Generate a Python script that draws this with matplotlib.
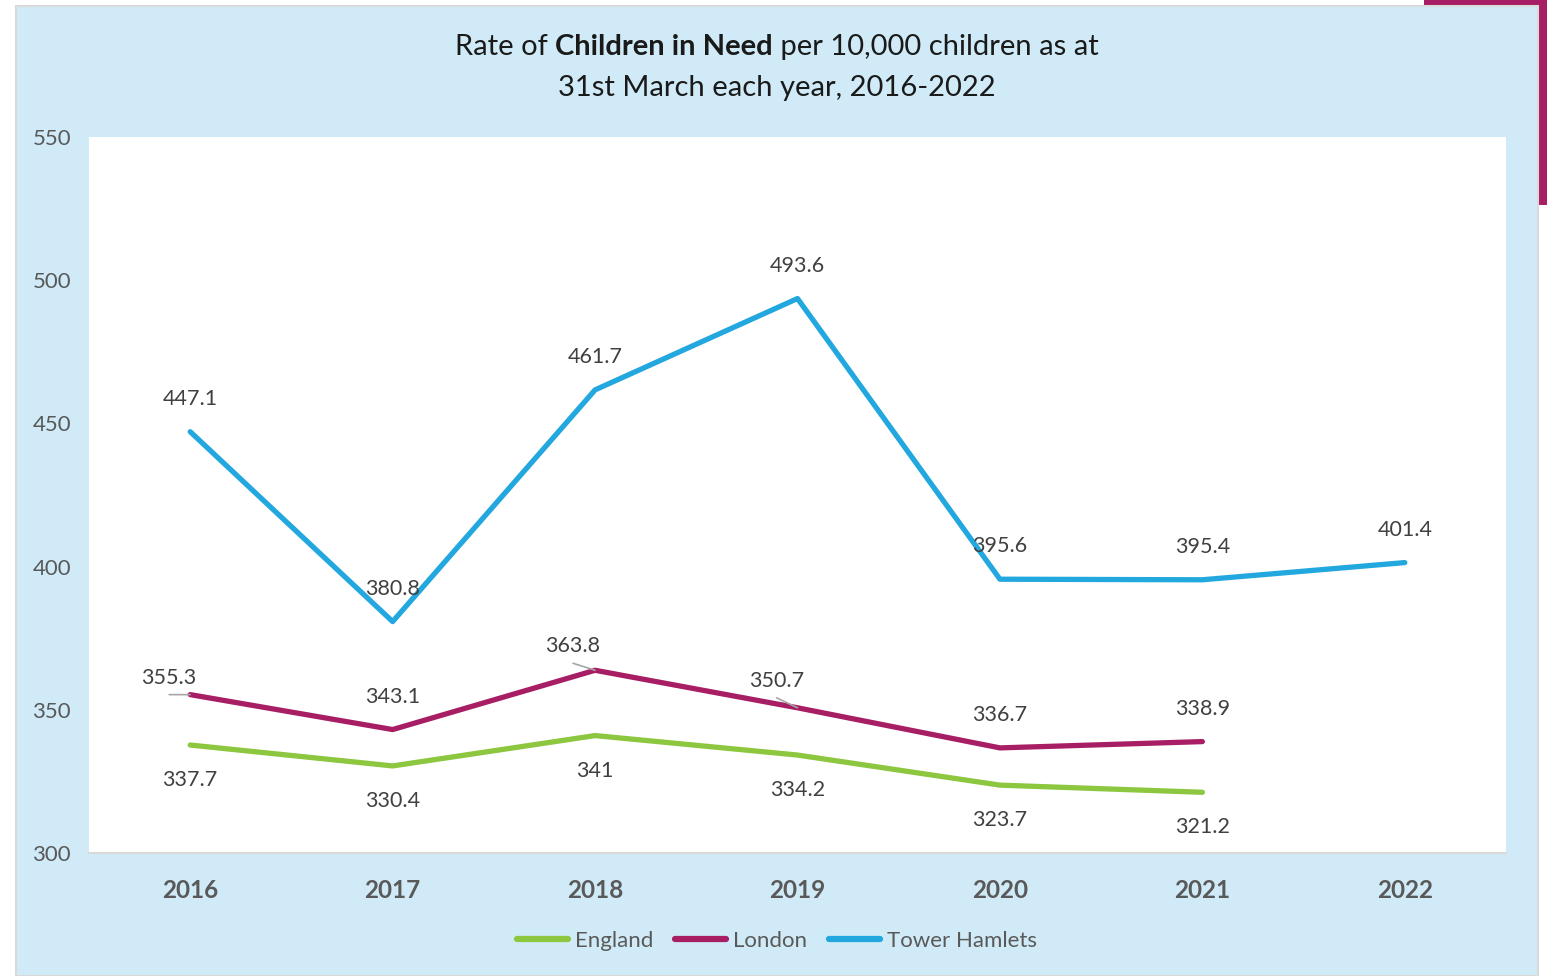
import matplotlib
matplotlib.use("Agg")
import matplotlib.pyplot as plt
from matplotlib.patches import Rectangle
from matplotlib.lines import Line2D

plt.rcParams['font.family'] = ['Lato', 'DejaVu Sans']

# data
years = ['2016', '2017', '2018', '2019', '2020', '2021', '2022']
england = [337.7, 330.4, 341, 334.2, 323.7, 321.2]
london = [355.3, 343.1, 363.8, 350.7, 336.7, 338.9]
tower_hamlets = [447.1, 380.8, 461.7, 493.6, 395.6, 395.4, 401.4]
england_labels = ['337.7', '330.4', '341', '334.2', '323.7', '321.2']
london_labels = ['355.3', '343.1', '363.8', '350.7', '336.7', '338.9']
th_labels = ['447.1', '380.8', '461.7', '493.6', '395.6', '395.4', '401.4']

green = '#8DC63F'
magenta = '#A71E64'
blue = '#22A7DF'
panel = '#D0EBF7'
grey_txt = '#595959'

W, H = 1547, 976
fig = plt.figure(figsize=(W / 100, H / 100), dpi=100)

# magenta tab behind panel, then the light blue panel
fig.patches.append(Rectangle((1424 / W, 1 - 205 / H), (W - 1424) / W, 205 / H,
                             transform=fig.transFigure, facecolor=magenta,
                             edgecolor='none', zorder=0))
fig.patches.append(Rectangle((16 / W, 0), (1538 - 16) / W, 1 - 6 / H,
                             transform=fig.transFigure, facecolor=panel,
                             edgecolor='#D9D9D9', linewidth=1.5, zorder=1))

ax = fig.add_axes([89 / W, 1 - 853 / H, (1506 - 89) / W, (853 - 137) / H])
ax.set_facecolor('white')
ax.set_zorder(2)

x = list(range(len(years)))
ax.plot(x[:len(england)], england, color=green, lw=3.8, solid_capstyle='round', label='England')
ax.plot(x[:len(london)], london, color=magenta, lw=3.8, solid_capstyle='round', label='London')
ax.plot(x, tower_hamlets, color=blue, lw=3.8, solid_capstyle='round', label='Tower Hamlets')

ax.set_xlim(-0.5, len(years) - 0.5)
ax.set_ylim(300, 550)
ax.set_yticks([300, 350, 400, 450, 500, 550])
ax.set_xticks(x)
ax.set_xticklabels(years, fontsize=17.5, fontweight='bold', color=grey_txt)
ax.tick_params(axis='y', length=0, pad=13, labelsize=16, labelcolor=grey_txt)
ax.tick_params(axis='x', length=0, pad=18.5)
for s in ['top', 'left', 'right']:
    ax.spines[s].set_visible(False)
ax.spines['bottom'].set_color('#D9D9D9')
ax.spines['bottom'].set_linewidth(1.5)

lab_kw = dict(textcoords='offset pixels', ha='center', va='center',
              fontsize=15.5, color='#404040')
for i, (v, t) in enumerate(zip(england, england_labels)):
    ax.annotate(t, (i, v), xytext=(0, -35), **lab_kw)

# london labels; a few sit up-left with a short leader line
london_off = [(-21, 17), (0, 33), (-22, 24), (-21, 27), (0, 33), (0, 33)]
leader = [True, False, True, True, False, False]
for i, (v, t) in enumerate(zip(london, london_labels)):
    ax.annotate(t, (i, v), xytext=london_off[i], **lab_kw)
    if leader[i]:
        dx, dy = london_off[i]
        ax.annotate('', (i, v), xytext=(dx, dy - 17), textcoords='offset pixels',
                    arrowprops=dict(arrowstyle='-', color='#A6A6A6', lw=1.2,
                                    shrinkA=0, shrinkB=0))

for i, (v, t) in enumerate(zip(tower_hamlets, th_labels)):
    ax.annotate(t, (i, v), xytext=(0, 33), **lab_kw)

# legend
handles = [Line2D([], [], color=green, lw=4.5, solid_capstyle='round'),
           Line2D([], [], color=magenta, lw=4.5, solid_capstyle='round'),
           Line2D([], [], color=blue, lw=4.5, solid_capstyle='round')]
leg = fig.legend(handles, ['England', 'London', 'Tower Hamlets'], loc='center',
                 bbox_to_anchor=(777 / W, 1 - 941 / H), ncol=3, frameon=False,
                 fontsize=16, handlelength=2.3, handletextpad=0.3,
                 columnspacing=1.0, labelcolor=grey_txt)

# title with bold part, centred by measuring
title_kw = dict(fontsize=21, color='#1a1a1a', va='center')
parts = [('Rate of ', 'normal'), ('Children in Need', 'bold'),
         (' per 10,000 children as at', 'normal')]
y1 = 1 - 47 / H
texts = [fig.text(0, y1, p, fontweight=w, **title_kw) for p, w in parts]
fig.canvas.draw()
r = fig.canvas.get_renderer()
widths = [t.get_window_extent(r).width for t in texts]
xpos = 777 - sum(widths) / 2
for t, wdt in zip(texts, widths):
    t.set_x(xpos / W)
    xpos += wdt
fig.text(777 / W, 1 - 88 / H, '31st March each year, 2016-2022', ha='center', **title_kw)

fig.savefig('out.png', dpi=100)
